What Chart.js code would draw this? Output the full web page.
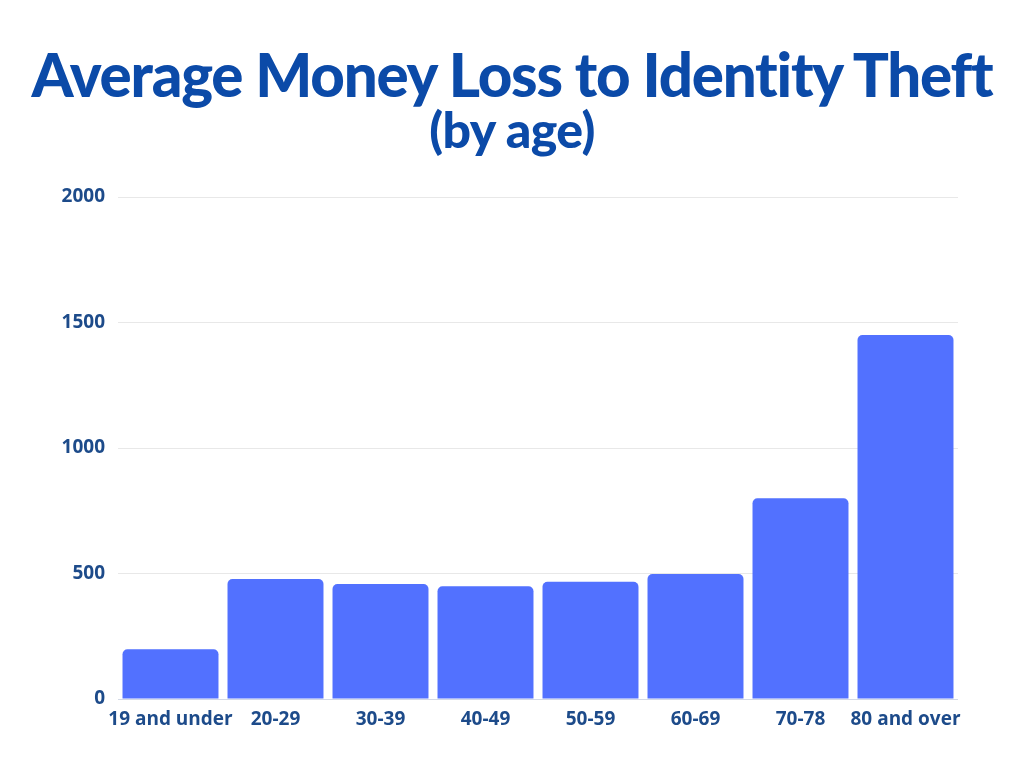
<!DOCTYPE html>
<html>
<head>
<meta charset="utf-8">
<script src="https://cdn.jsdelivr.net/npm/chart.js"></script>
<style>
  html, body { margin: 0; padding: 0; background: #fff; }
  #wrap { position: relative; width: 1024px; height: 768px; overflow: hidden; }
  .title { position: absolute; left: 0; width: 1024px; text-align: center; color: #0b4aa8;
           font-family: Lato, sans-serif; font-weight: 900; white-space: nowrap; }
  #t1 { top: 38px; font-size: 60px; letter-spacing: -1.2px; }
  #t2 { top: 99px; font-size: 50px; letter-spacing: -0.6px; }
  #chart { position: absolute; left: 0; top: 0; }
</style>
</head>
<body>
<div id="wrap">
  <canvas id="chart" width="1024" height="768"></canvas>
  <div class="title" id="t1">Average Money Loss to Identity Theft</div>
  <div class="title" id="t2">(by age)</div>
</div>
<script>
// данные графика
var ageGroups = ['19 and under', '20-29', '30-39', '40-49', '50-59', '60-69', '70-78', '80 and over'];
var avgLoss = [198, 478, 458, 449, 467, 498, 800, 1450];
var yTicks = [0, 500, 1000, 1500, 2000];

var labelColor = '#1d4b8a';
var labelFont = { family: 'Open Sans', weight: 'bold', size: 19 };

var ctx = document.getElementById('chart').getContext('2d');
var chart = new Chart(ctx, {
    type: 'bar',
    data: {
        labels: ageGroups,
        datasets: [{
            data: avgLoss,
            backgroundColor: '#5271ff',
            borderRadius: { topLeft: 5, topRight: 5 },
            borderSkipped: 'bottom',
            categoryPercentage: 1,
            barPercentage: 0.914
        }]
    },
    options: {
        responsive: false,
        animation: false,
        layout: { padding: { top: 197, right: 66, bottom: 0, left: 0 } },
        plugins: { legend: { display: false }, tooltip: { enabled: false } },
        scales: {
            x: {
                grid: { display: false, drawTicks: false },
                border: { display: false },
                ticks: { color: labelColor, font: labelFont, padding: 9, maxRotation: 0, autoSkip: false },
                afterFit: function(s) { s.height = 69; }
            },
            y: {
                min: 0,
                max: 2000,
                afterBuildTicks: function(s) { s.ticks = yTicks.map(function(v) { return { value: v }; }); },
                grid: {
                    drawTicks: false,
                    color: function(c) { return c.tick && c.tick.value === 0 ? '#d3d9e6' : '#e8e8e8'; },
                    lineWidth: 1
                },
                border: { display: false },
                ticks: {
                    color: labelColor,
                    font: labelFont,
                    padding: 13,
                    callback: function(v) { return String(v); }
                },
                afterFit: function(s) { s.width = 118; }
            }
        }
    }
});
</script>
</body>
</html>
